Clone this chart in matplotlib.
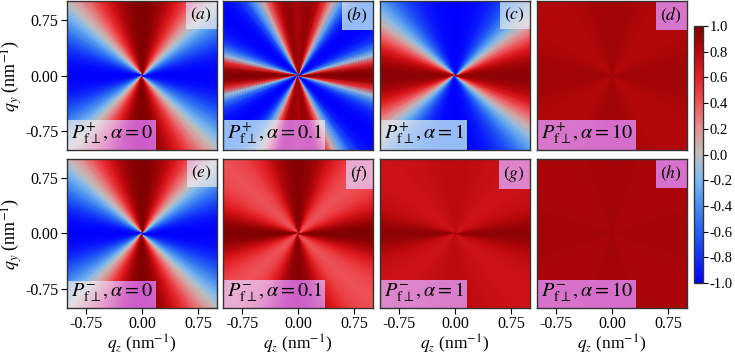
import numpy as np
import matplotlib
matplotlib.use("Agg")
import matplotlib.pyplot as plt
from matplotlib.colors import LinearSegmentedColormap
from matplotlib.patches import Rectangle

plt.rcParams['font.family'] = ['Liberation Serif', 'DejaVu Serif']
plt.rcParams['mathtext.fontset'] = 'stix'
plt.rcParams['axes.unicode_minus'] = False

# ---- data: P read at these angles (deg, first quadrant; mirror-symmetric) ----
angles_deg = [0, 5, 10, 15, 20, 25, 30, 35, 40, 45, 50, 55, 60, 65, 70, 75, 80, 85, 90]

P_plus_alpha0 = [-1.0, -0.98, -0.94, -0.87, -0.77, -0.64, -0.5, -0.34, -0.17, 0.0,
                 0.17, 0.34, 0.5, 0.64, 0.77, 0.87, 0.94, 0.98, 1.0]
P_plus_alpha01 = [1.0, 0.9, 0.55, -0.1, -0.5, -0.78, -0.92, -0.98, -1.0, -0.97,
                  -0.88, -0.65, -0.3, 0.1, 0.5, 0.8, 0.92, 0.9, 0.85]
P_plus_alpha1 = [0.95, 0.93, 0.88, 0.78, 0.64, 0.46, 0.27, 0.07, -0.13, -0.32,
                 -0.5, -0.65, -0.77, -0.86, -0.92, -0.96, -0.98, -0.99, -1.0]
P_plus_alpha10 = [0.88, 0.88, 0.87, 0.86, 0.85, 0.84, 0.83, 0.825, 0.82, 0.82,
                  0.82, 0.825, 0.83, 0.84, 0.85, 0.86, 0.87, 0.88, 0.88]
P_minus_alpha0 = [-1.0, -0.98, -0.94, -0.87, -0.77, -0.64, -0.5, -0.34, -0.17, 0.0,
                  0.17, 0.34, 0.5, 0.64, 0.77, 0.87, 0.94, 0.98, 1.0]
P_minus_alpha01 = [1.0, 0.97, 0.88, 0.76, 0.64, 0.55, 0.48, 0.44, 0.42, 0.42,
                   0.44, 0.48, 0.55, 0.64, 0.75, 0.85, 0.92, 0.96, 0.97]
P_minus_alpha1 = [0.95, 0.92, 0.86, 0.8, 0.76, 0.74, 0.72, 0.71, 0.71, 0.71,
                  0.71, 0.72, 0.73, 0.74, 0.75, 0.76, 0.77, 0.78, 0.78]
P_minus_alpha10 = [0.87, 0.87, 0.865, 0.86, 0.855, 0.85, 0.85, 0.845, 0.845, 0.845,
                   0.845, 0.845, 0.85, 0.85, 0.855, 0.86, 0.865, 0.87, 0.87]

rows = [[P_plus_alpha0, P_plus_alpha01, P_plus_alpha1, P_plus_alpha10],
        [P_minus_alpha0, P_minus_alpha01, P_minus_alpha1, P_minus_alpha10]]
alpha_labels = ['0', '0.1', '1', '10']
sign_labels = ['+', '-']
panel_letters = [['a', 'b', 'c', 'd'], ['e', 'f', 'g', 'h']]
tick_values = [-0.75, 0.0, 0.75]
tick_labels = ['-0.75', '0.00', '0.75']
cbar_ticks = [-1.0, -0.8, -0.6, -0.4, -0.2, 0.0, 0.2, 0.4, 0.6, 0.8, 1.0]
q_lim = 1.0

# ---- colormaps ----
main_cmap = LinearSegmentedColormap.from_list('pol', [
    (0.0, (0/255, 0/255, 255/255)),
    (0.2, (35/255, 95/255, 245/255)),
    (0.3, (70/255, 140/255, 240/255)),
    (0.4, (120/255, 185/255, 245/255)),
    (0.5, (192/255, 190/255, 190/255)),
    (0.6, (225/255, 145/255, 145/255)),
    (0.7, (238/255, 85/255, 90/255)),
    (0.8, (228/255, 30/255, 35/255)),
    (0.9, (185/255, 8/255, 12/255)),
    (1.0, (128/255, 0/255, 0/255)),
])
box_cmap = LinearSegmentedColormap.from_list('box', [
    (0.0, (150/255, 188/255, 246/255)),
    (0.25, (180/255, 205/255, 240/255)),
    (0.5, (226/255, 226/255, 228/255)),
    (0.75, (234/255, 165/255, 205/255)),
    (1.0, (205/255, 92/255, 200/255)),
])

W, H, DPI = 735, 354, 100
fig = plt.figure(figsize=(W / DPI, H / DPI), dpi=DPI)

col_left = [67, 223, 380, 537]
row_top = [1, 159]
pw, ph = 150, 149

theta_full = np.arange(0, 361, 5)
radii = np.linspace(0, 1.5, 40)
T, R = np.meshgrid(np.deg2rad(theta_full), radii)
X = R * np.cos(T)
Y = R * np.sin(T)


def full_circle(profile):
    vals = []
    for th in theta_full:
        t = th % 180
        if t > 90:
            t = 180 - t
        vals.append(profile[angles_deg.index(t)])
    return np.array(vals)


axes = []
for i in range(2):
    for j in range(4):
        ax = fig.add_axes([col_left[j] / W, 1 - (row_top[i] + ph) / H, pw / W, ph / H])
        axes.append((i, j, ax))
        C = np.tile(full_circle(rows[i][j]), (len(radii), 1))
        ax.pcolormesh(X, Y, C, shading='gouraud', cmap=main_cmap, vmin=-1, vmax=1,
                      rasterized=True)
        ax.set_xlim(-q_lim, q_lim)
        ax.set_ylim(-q_lim, q_lim)
        ax.set_xticks(tick_values)
        ax.set_yticks(tick_values)
        ax.tick_params(direction='out', length=4, width=0.8, labelsize=11.5, pad=2)
        if j == 0:
            ax.set_yticklabels(tick_labels)
            ax.set_ylabel(r'$q_y$ (nm$^{-1}$)', fontsize=13, labelpad=1)
        else:
            ax.tick_params(left=False, labelleft=False)
        if i == 1:
            ax.set_xticklabels(tick_labels)
            ax.set_xlabel(r'$q_z$ (nm$^{-1}$)', fontsize=12.5, labelpad=0)
        else:
            ax.tick_params(bottom=False, labelbottom=False)
        for s in ax.spines.values():
            s.set_color('#333333')
            s.set_linewidth(1.0)
        ax.C = C

texts = []
for (i, j, ax) in axes:
    lab = ax.text(0.025, 0.025,
                  r'$P^{%s}_{\mathrm{f}\perp}, \alpha = %s$' % (sign_labels[i], alpha_labels[j]),
                  transform=ax.transAxes, ha='left', va='bottom', fontsize=14.5, zorder=5)
    let = ax.text(0.965, 0.965, r'$(%s)$' % panel_letters[i][j], transform=ax.transAxes,
                  ha='right', va='top', fontsize=12.5, zorder=5)
    texts.append((ax, lab, let))

fig.canvas.draw()
rend = fig.canvas.get_renderer()
for ax, lab, let in texts:
    inv = ax.transAxes.inverted()
    bb = lab.get_window_extent(rend)
    (x0, y0), (x1, y1) = inv.transform([[bb.x0, bb.y0], [bb.x1, bb.y1]])
    r1 = Rectangle((0, 0), min(x1 + 0.02, 1.0), min(y1 + 0.005, 1.0),
                   transform=ax.transAxes, fill=False, linewidth=0)
    bb = let.get_window_extent(rend)
    (u0, v0), (u1, v1) = inv.transform([[bb.x0, bb.y0], [bb.x1, bb.y1]])
    bx, by = u0 - 0.03, v0 - 0.03
    r2 = Rectangle((bx, by), 1.0 - bx, 1.0 - by, transform=ax.transAxes,
                   fill=False, linewidth=0)
    for r in (r1, r2):
        m = ax.pcolormesh(X, Y, ax.C, shading='gouraud', cmap=box_cmap, vmin=-1, vmax=1,
                          zorder=2, rasterized=True)
        m.set_clip_path(r)

# colorbar
cax = fig.add_axes([694 / W, 1 - 283 / H, 9 / W, 257 / H])
sm = matplotlib.cm.ScalarMappable(cmap=main_cmap, norm=matplotlib.colors.Normalize(-1, 1))
cb = fig.colorbar(sm, cax=cax, ticks=cbar_ticks)
cb.ax.set_yticklabels(['%.1f' % v for v in cbar_ticks])
cb.ax.tick_params(labelsize=10.5, length=3.5, width=0.8, pad=1.5)
cb.outline.set_edgecolor('#333333')
cb.outline.set_linewidth(1.0)

fig.savefig('out.png', dpi=DPI)
